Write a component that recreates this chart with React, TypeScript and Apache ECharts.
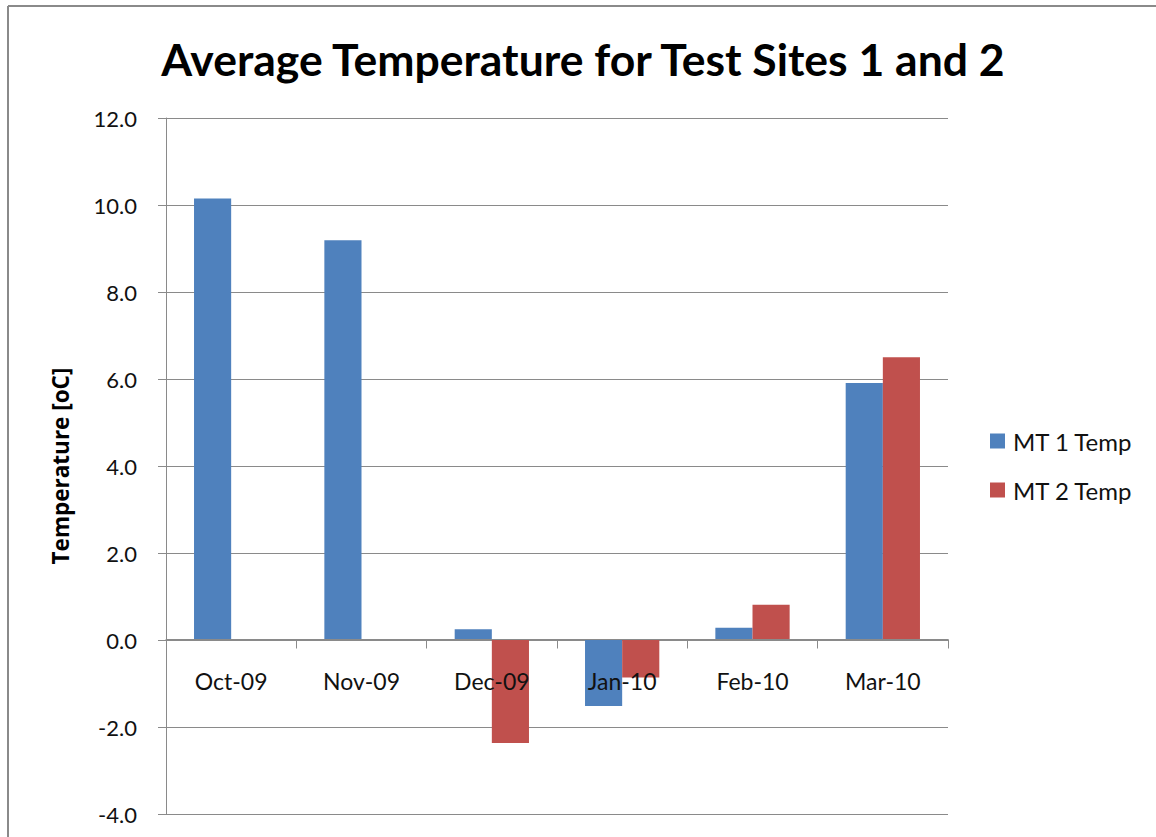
import React, { useEffect, useRef } from "react";
import * as echarts from "echarts";

const categories = ["Oct-09", "Nov-09", "Dec-09", "Jan-10", "Feb-10", "Mar-10"];
const mt1Temp = [10.15, 9.19, 0.25, -1.52, 0.28, 5.91];
const mt2Temp: (number | null)[] = [null, null, -2.37, -0.86, 0.81, 6.5];
const seriesNames = ["MT 1 Temp", "MT 2 Temp"];
const titleText = "Average Temperature for Test Sites 1 and 2";
const yAxisName = "Temperature [oC]";

const FONT = "Lato";

export default function App() {
  const ref = useRef<HTMLDivElement>(null);
  useEffect(() => {
    if (!ref.current) return;
    const chart = echarts.init(ref.current, null, { renderer: "svg" });
    chart.setOption({
      animation: false,
      backgroundColor: "#ffffff",
      textStyle: { fontFamily: FONT },
      graphic: [
        {
          type: "line",
          shape: { x1: 8, y1: 6, x2: 1156, y2: 6 },
          style: { stroke: "#8a8a8a", lineWidth: 2 },
          silent: true,
        },
        {
          type: "line",
          shape: { x1: 8, y1: 6, x2: 8, y2: 837 },
          style: { stroke: "#8a8a8a", lineWidth: 2 },
          silent: true,
        },
        {
          type: "text",
          x: 583,
          y: 58,
          style: {
            text: titleText,
            fontFamily: FONT,
            fontWeight: "bold",
            fontSize: 44.5,
            fill: "#000",
            textAlign: "center",
            textVerticalAlign: "middle",
          },
        },
        {
          type: "text",
          x: 60,
          y: 466,
          rotation: Math.PI / 2,
          style: {
            text: yAxisName,
            fontFamily: "Open Sans",
            fontWeight: "bold",
            fontSize: 22.5,
            fill: "#000",
            textAlign: "center",
            textVerticalAlign: "middle",
          },
        },
      ],
      grid: { left: 166, right: 208, top: 118, bottom: 23, outerBoundsMode: "none", containLabel: false },
      legend: {
        orient: "vertical",
        left: 985,
        top: 424,
        itemWidth: 15,
        itemHeight: 15,
        itemGap: 25,
        icon: "rect",
        textStyle: { fontFamily: FONT, fontSize: 24, color: "#111", padding: [0, 0, 0, 3] },
        data: seriesNames,
      },
      xAxis: {
        type: "category",
        data: categories,
        offset: -174.5,
        z: 10,
        axisLine: { onZero: false, lineStyle: { color: "#8a8a8a", width: 1 } },
        axisTick: { show: true, length: 9, lineStyle: { color: "#8a8a8a" } },
        axisLabel: { margin: 30, fontSize: 23, color: "#111", fontFamily: FONT },
      },
      yAxis: {
        type: "value",
        min: -4,
        max: 12,
        interval: 2,
        axisLine: { show: true, lineStyle: { color: "#8a8a8a", width: 1 } },
        axisTick: { show: true, length: 8, inside: false, lineStyle: { color: "#8a8a8a" } },
        axisLabel: {
          margin: 29,
          fontSize: 22,
          color: "#111",
          fontFamily: FONT,
          formatter: (v: number) => v.toFixed(1),
        },
        splitLine: { show: true, lineStyle: { color: "#8a8a8a", width: 1 } },
      },
      series: [
        {
          name: seriesNames[0],
          type: "bar",
          data: mt1Temp,
          itemStyle: { color: "#4F81BD" },
          barGap: "0%",
          barCategoryGap: "43%",
        },
        {
          name: seriesNames[1],
          type: "bar",
          data: mt2Temp,
          itemStyle: { color: "#C0504D" },
          barGap: "0%",
          barCategoryGap: "43%",
        },
      ],
    });
    return () => chart.dispose();
  }, []);
  return (
    <div
      ref={ref}
      style={{ position: "absolute", left: 0, top: 0, width: 1156, height: 837 }}
    />
  );
}
